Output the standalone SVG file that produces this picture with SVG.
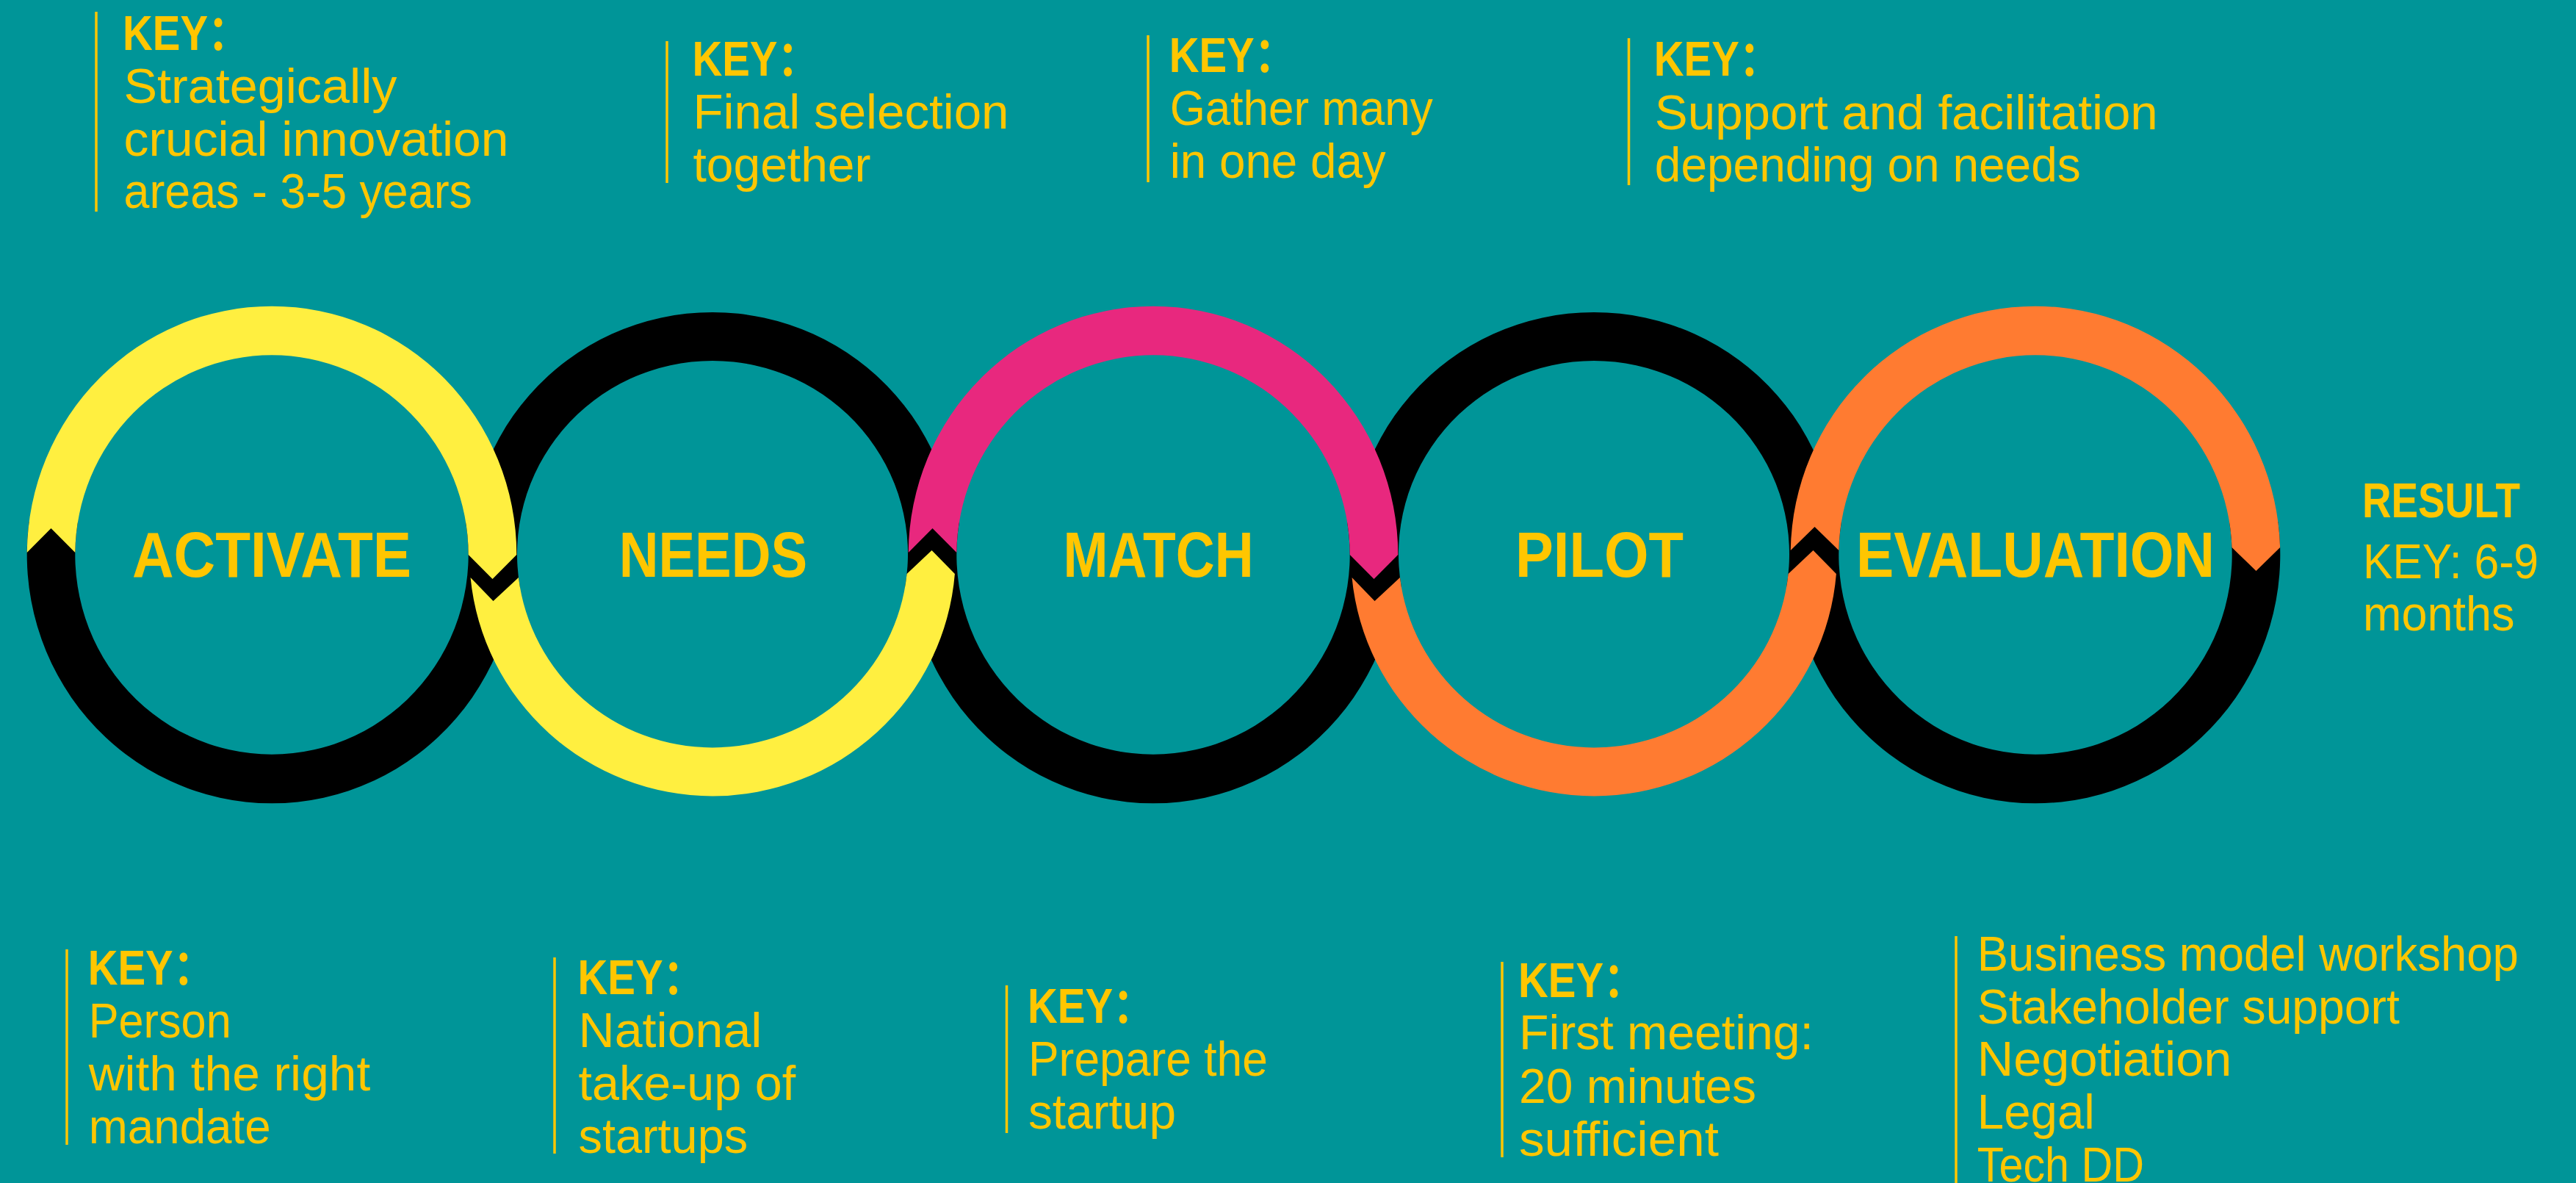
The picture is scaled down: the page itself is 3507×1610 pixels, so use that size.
<svg xmlns="http://www.w3.org/2000/svg" width="3507" height="1610" viewBox="0 0 3507 1610">
<style>
.bk{fill:#000000}
.yl{fill:#FFEF40}
.pk{fill:#E8287E}
.or{fill:#FF7B31}
.lbl{font-family:"Liberation Sans","Noto Sans",sans-serif;font-weight:bold;font-size:87px;fill:#FFC600}
.key{font-family:"Liberation Sans","Noto Sans CJK SC",sans-serif;font-weight:bold;font-size:66px;fill:#FFC600}
.txt{font-family:"Liberation Sans","Noto Sans",sans-serif;font-size:67px;fill:#FFC600}
.bar{stroke:#FFC600;stroke-width:3.5;fill:none}
</style>
<rect x="0" y="0" width="3507" height="1610" fill="#009598"/>

<g id="rings-back">
<path class="bk" d="M39.66,710 A333.3,338.3 0 0 0 370,1093.3 A333.3,338.3 0 0 0 700.34,710 L634,710 A267.7,271.7 0 0 1 370,1026.7 A267.7,271.7 0 0 1 106,710 Z"/>
<path class="bk" d="M1239.66,710 A333.3,338.3 0 0 0 1570,1093.3 A333.3,338.3 0 0 0 1900.34,710 L1834,710 A267.7,271.7 0 0 1 1570,1026.7 A267.7,271.7 0 0 1 1306,710 Z"/>
<path class="bk" d="M2440.66,710 A333.3,338.3 0 0 0 2771,1093.3 A333.3,338.3 0 0 0 3101.34,710 L3035,710 A267.7,271.7 0 0 1 2771,1026.7 A267.7,271.7 0 0 1 2507,710 Z"/>
<path class="bk" d="M642.1,799.2 A331,329.2 0 0 1 970,425 A331,329.2 0 0 1 1297.9,799.2 L1232.08,799.2 A266,263.2 0 0 0 970,491 A266,263.2 0 0 0 707.92,799.2 Z"/>
<path class="bk" d="M1842.1,799.2 A331,329.2 0 0 1 2170,425 A331,329.2 0 0 1 2497.9,799.2 L2432.08,799.2 A266,263.2 0 0 0 2170,491 A266,263.2 0 0 0 1907.92,799.2 Z"/>
</g>

<g id="rings-front">
<path class="yl" d="M36.71,752 A333.3,338.3 0 0 1 370,416.7 A333.3,338.3 0 0 1 703.3,755 L670.5,788 L637.7,755 A267.7,271.7 0 0 0 370,483.3 A267.7,271.7 0 0 0 102.32,752 L69.5,719 Z"/>
<path class="yl" d="M640.55,786 A331,329.2 0 0 0 970,1083.4 A331,329.2 0 0 0 1299.9,781 L1268.5,749 L1234.6,781 A266,263.2 0 0 1 970,1017.4 A266,263.2 0 0 1 705.95,786 L671.5,818 Z"/>
<path class="pk" d="M1236.71,752 A333.3,338.3 0 0 1 1570,416.7 A333.3,338.3 0 0 1 1903.3,755 L1870.5,788 L1837.7,755 A267.7,271.7 0 0 0 1570,483.3 A267.7,271.7 0 0 0 1302.32,752 L1269.5,719 Z"/>
<path class="or" d="M1840.55,786 A331,329.2 0 0 0 2170,1083.4 A331,329.2 0 0 0 2499.9,781 L2468.5,749 L2434.6,781 A266,263.2 0 0 1 2170,1017.4 A266,263.2 0 0 1 1905.95,786 L1871.5,818 Z"/>
<path class="or" d="M2437.75,749 A333.3,338.3 0 0 1 2771,416.7 A333.3,338.3 0 0 1 3104.15,745 L3071.5,777 L3038.52,745 A267.7,271.7 0 0 0 2771,483.3 A267.7,271.7 0 0 0 2503.37,749 L2470.5,717 Z"/>
</g>

<g id="node-activate"><text class="lbl" x="180" y="785" textLength="380" lengthAdjust="spacingAndGlyphs">ACTIVATE</text></g>
<g id="node-needs"><text class="lbl" x="842.7" y="785" textLength="256.5" lengthAdjust="spacingAndGlyphs">NEEDS</text></g>
<g id="node-match"><text class="lbl" x="1447.6" y="785" textLength="259" lengthAdjust="spacingAndGlyphs">MATCH</text></g>
<g id="node-pilot"><text class="lbl" x="2063" y="785" textLength="229" lengthAdjust="spacingAndGlyphs">PILOT</text></g>
<g id="node-evaluation"><text class="lbl" x="2527" y="785" textLength="488" lengthAdjust="spacingAndGlyphs">EVALUATION</text></g>

<g id="note-top-1">
<line class="bar" x1="131" y1="16" x2="131" y2="288"/>
<text class="key" x="167" y="68" textLength="172.5" lengthAdjust="spacingAndGlyphs">KEY：</text>
<text class="txt" x="168.5" y="140" textLength="372" lengthAdjust="spacingAndGlyphs">Strategically</text>
<text class="txt" x="168.5" y="212" textLength="524" lengthAdjust="spacingAndGlyphs">crucial innovation</text>
<text class="txt" x="168.5" y="283" textLength="474.5" lengthAdjust="spacingAndGlyphs">areas - 3-5 years</text>
</g>
<g id="note-top-2">
<line class="bar" x1="908" y1="56" x2="908" y2="249"/>
<text class="key" x="942.4" y="103" textLength="172.5" lengthAdjust="spacingAndGlyphs">KEY：</text>
<text class="txt" x="943.5" y="175" textLength="430" lengthAdjust="spacingAndGlyphs">Final selection</text>
<text class="txt" x="943.5" y="247" textLength="242" lengthAdjust="spacingAndGlyphs">together</text>
</g>
<g id="note-top-3">
<line class="bar" x1="1563" y1="48" x2="1563" y2="248"/>
<text class="key" x="1591.7" y="98" textLength="172.5" lengthAdjust="spacingAndGlyphs">KEY：</text>
<text class="txt" x="1592.7" y="170" textLength="358" lengthAdjust="spacingAndGlyphs">Gather many</text>
<text class="txt" x="1592.7" y="242" textLength="294" lengthAdjust="spacingAndGlyphs">in one day</text>
</g>
<g id="note-top-4">
<line class="bar" x1="2217.5" y1="52" x2="2217.5" y2="252"/>
<text class="key" x="2251.8" y="103" textLength="172.5" lengthAdjust="spacingAndGlyphs">KEY：</text>
<text class="txt" x="2252.8" y="176" textLength="685" lengthAdjust="spacingAndGlyphs">Support and facilitation</text>
<text class="txt" x="2252.8" y="247" textLength="580" lengthAdjust="spacingAndGlyphs">depending on needs</text>
</g>

<g id="note-result">
<text class="key" x="3216" y="704" textLength="215" lengthAdjust="spacingAndGlyphs">RESULT</text>
<text class="txt" x="3217" y="787" textLength="239" lengthAdjust="spacingAndGlyphs">KEY: 6-9</text>
<text class="txt" x="3217" y="858" textLength="206.4" lengthAdjust="spacingAndGlyphs">months</text>
</g>

<g id="note-bottom-1">
<line class="bar" x1="91" y1="1292" x2="91" y2="1558"/>
<text class="key" x="119.7" y="1340" textLength="172.5" lengthAdjust="spacingAndGlyphs">KEY：</text>
<text class="txt" x="120.7" y="1412" textLength="194" lengthAdjust="spacingAndGlyphs">Person</text>
<text class="txt" x="120.7" y="1484" textLength="383.5" lengthAdjust="spacingAndGlyphs">with the right</text>
<text class="txt" x="120.7" y="1556" textLength="248" lengthAdjust="spacingAndGlyphs">mandate</text>
</g>
<g id="note-bottom-2">
<line class="bar" x1="755" y1="1303" x2="755" y2="1570"/>
<text class="key" x="786.5" y="1353" textLength="172.5" lengthAdjust="spacingAndGlyphs">KEY：</text>
<text class="txt" x="787.5" y="1425" textLength="250" lengthAdjust="spacingAndGlyphs">National</text>
<text class="txt" x="787.5" y="1497" textLength="295.6" lengthAdjust="spacingAndGlyphs">take-up of</text>
<text class="txt" x="787.5" y="1569" textLength="230.6" lengthAdjust="spacingAndGlyphs">startups</text>
</g>
<g id="note-bottom-3">
<line class="bar" x1="1370.5" y1="1341" x2="1370.5" y2="1542"/>
<text class="key" x="1399" y="1392" textLength="172.5" lengthAdjust="spacingAndGlyphs">KEY：</text>
<text class="txt" x="1400" y="1464" textLength="326" lengthAdjust="spacingAndGlyphs">Prepare the</text>
<text class="txt" x="1400" y="1536" textLength="201" lengthAdjust="spacingAndGlyphs">startup</text>
</g>
<g id="note-bottom-4">
<line class="bar" x1="2045" y1="1309" x2="2045" y2="1575"/>
<text class="key" x="2067" y="1357" textLength="172.5" lengthAdjust="spacingAndGlyphs">KEY：</text>
<text class="txt" x="2068" y="1428" textLength="401" lengthAdjust="spacingAndGlyphs">First meeting:</text>
<text class="txt" x="2068" y="1501" textLength="323" lengthAdjust="spacingAndGlyphs">20 minutes</text>
<text class="txt" x="2068" y="1573" textLength="272" lengthAdjust="spacingAndGlyphs">sufficient</text>
</g>
<g id="note-bottom-5">
<line class="bar" x1="2663" y1="1274" x2="2663" y2="1610"/>
<text class="txt" x="2691.8" y="1321" textLength="737" lengthAdjust="spacingAndGlyphs">Business model workshop</text>
<text class="txt" x="2691.8" y="1393" textLength="575" lengthAdjust="spacingAndGlyphs">Stakeholder support</text>
<text class="txt" x="2691.8" y="1464" textLength="346.6" lengthAdjust="spacingAndGlyphs">Negotiation</text>
<text class="txt" x="2691.8" y="1536" textLength="160" lengthAdjust="spacingAndGlyphs">Legal</text>
<text class="txt" x="2691.8" y="1608" textLength="227.4" lengthAdjust="spacingAndGlyphs">Tech DD</text>
</g>
</svg>
